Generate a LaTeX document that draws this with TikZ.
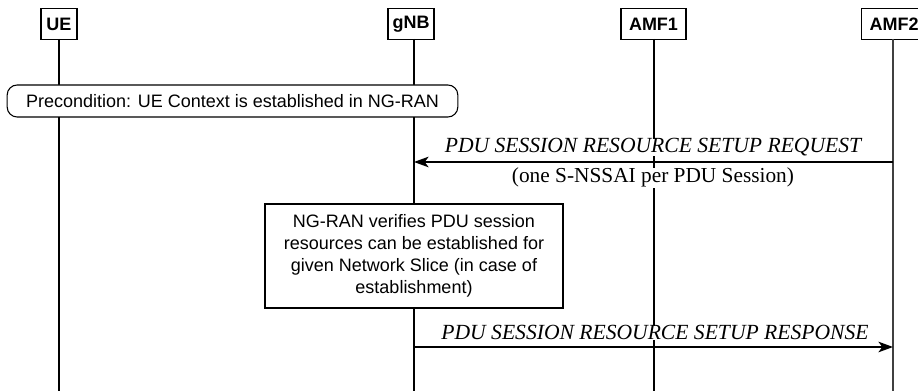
\documentclass[tikz,border=0pt]{standalone}
\usepackage{fontspec}
\setmainfont{Liberation Serif}
\setsansfont{Liberation Sans}
\usetikzlibrary{arrows.meta}
\begin{document}
\begin{tikzpicture}[x=0.75pt,y=-0.75pt,
  entity/.style={draw,line width=0.8pt,font=\sffamily\bfseries\fontsize{13.5}{15}\selectfont,inner sep=0pt,minimum height=23.25pt,anchor=north},
  life/.style={line width=0.8pt},
  msg/.style={line width=0.8pt,-{Stealth[length=11pt,width=8pt,inset=3pt]}},
  msglabel/.style={font=\itshape\fontsize{16.2}{18}\selectfont,inner sep=0pt},
  note/.style={font=\fontsize{16}{18}\selectfont,inner sep=0pt},
  txt/.style={font=\sffamily\fontsize{13.5}{16.5}\selectfont,align=center}]
\useasboundingbox (0,0) rectangle (918,391);
% header boxes
\node[entity,minimum width=27pt] (ue) at (59,8) {UE};
\node[entity,minimum width=34.5pt] (gnb) at (411,8) {gNB};
\node[entity,minimum width=48.75pt] (amf1) at (653.5,8) {AMF1};
\node[entity,minimum width=48.75pt,anchor=north west] (amf2) at (861,8) {AMF2};
% lifeline coordinates
\coordinate (ueb) at (59,391);
\coordinate (gnbb) at (414,391);
\coordinate (amf1b) at (654,391);
\coordinate (amf2b) at (893,391);
\coordinate (uet) at (59,39);
\coordinate (gnbt) at (414,39);
\coordinate (amf1t) at (654,39);
\coordinate (amf2t) at (893,39);
\draw[life] (uet) -- (ueb);
\draw[life] (gnbt) -- (gnbb);
\draw[life] (amf1t) -- (amf1b);
\draw[life,draw=black!75] (amf2t) -- (amf2b);
% precondition
\node[draw,line width=0.8pt,rounded corners=7.5pt,fill=white,txt,minimum width=338pt,minimum height=24pt,inner sep=0pt] (pre) at (232.5,101) {Precondition: UE Context is established in NG-RAN};
% request
\coordinate (r1) at (893,162);
\coordinate (r2) at (414,162);
\draw[msg] (r1) -- (r2);
\node[msglabel,fill=white,anchor=base] (reql) at (653,153) {PDU SESSION RESOURCE SETUP REQUEST};
\node[note,fill=white,anchor=base] (reqn) at (653,183) {(one S-NSSAI per PDU Session)};
% process box
\node[draw,line width=0.8pt,fill=white,txt,minimum width=223.5pt,minimum height=78pt,inner sep=0pt] (proc) at (414,256) {NG-RAN verifies PDU session\\resources can be established for\\given Network Slice (in case of\\establishment)};
% response
\coordinate (s1) at (414,347);
\coordinate (s2) at (893,347);
\draw[msg] (s1) -- (s2);
\node[msglabel,fill=white,anchor=base] (resl) at (655,340) {PDU SESSION RESOURCE SETUP RESPONSE};
\end{tikzpicture}
\end{document}
